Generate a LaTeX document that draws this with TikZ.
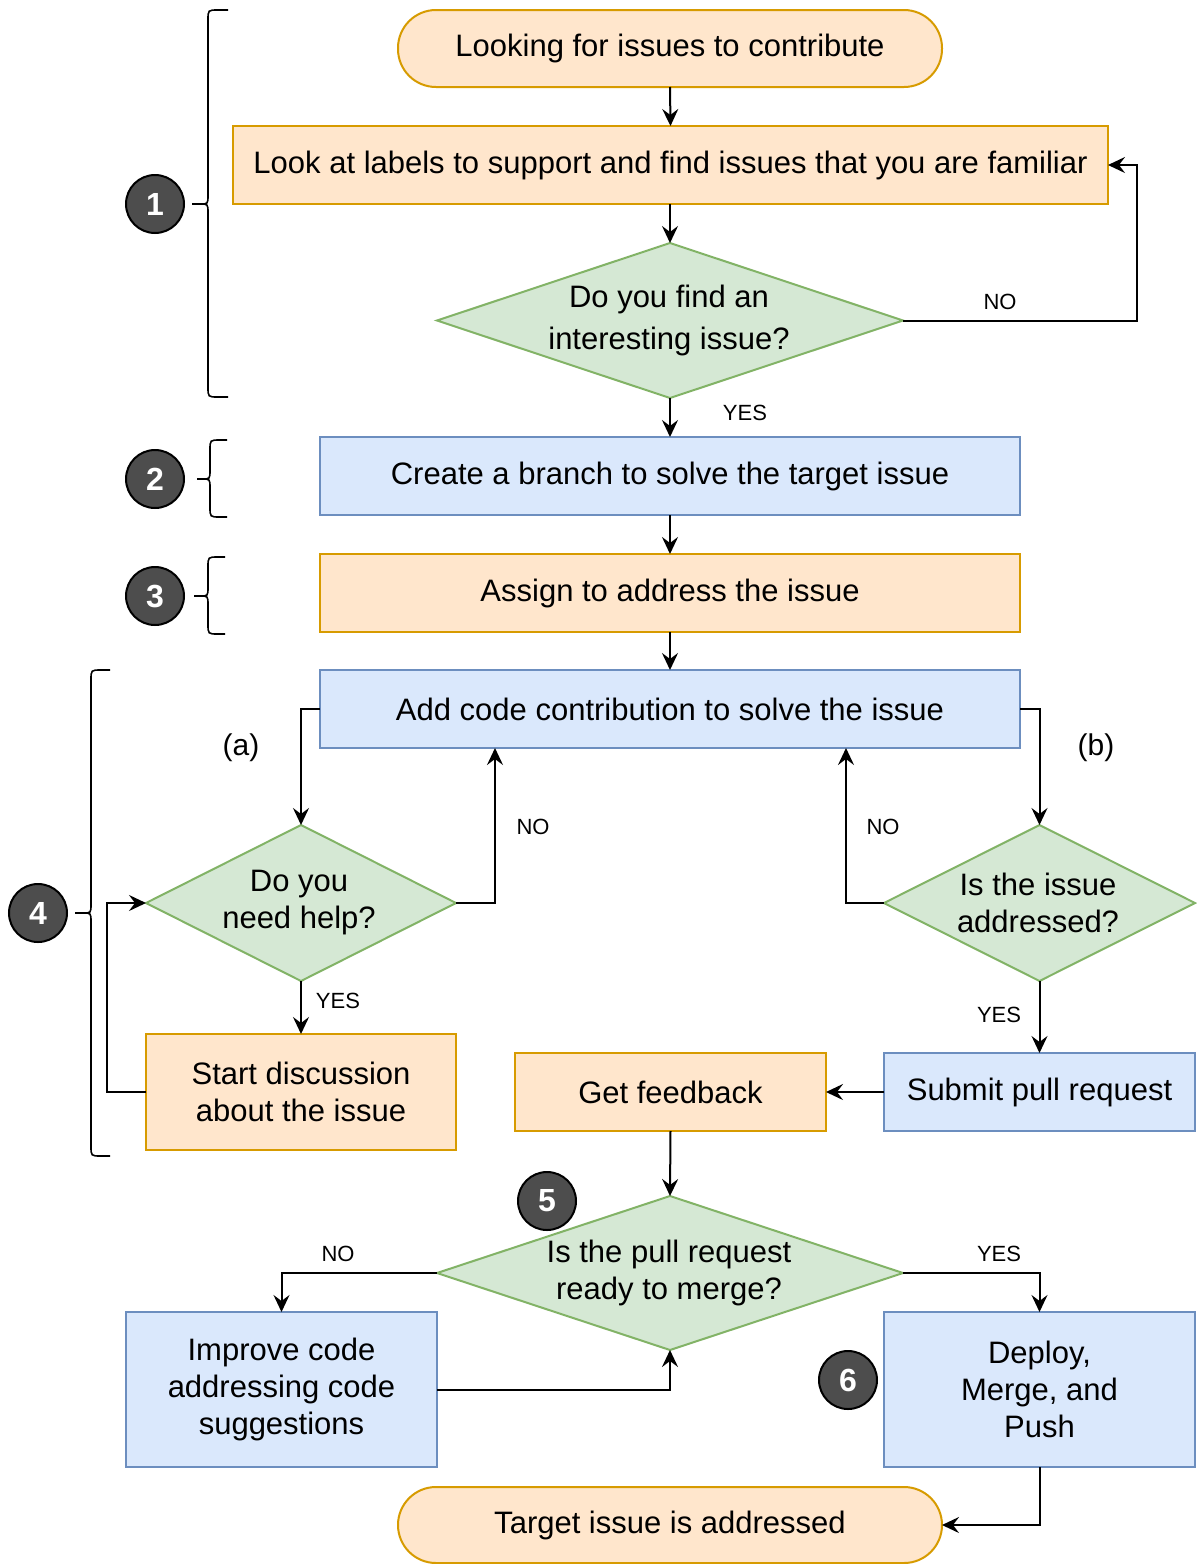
\documentclass[tikz,border=0pt]{standalone}
\usepackage{fontspec}
\setmainfont{Liberation Sans}
\usetikzlibrary{arrows.meta,shapes.geometric}

\definecolor{orfill}{HTML}{FFE6CC}
\definecolor{orline}{HTML}{D79B00}
\definecolor{blfill}{HTML}{DAE8FC}
\definecolor{blline}{HTML}{6C8EBF}
\definecolor{grfill}{HTML}{D5E8D4}
\definecolor{grline}{HTML}{82B366}
\definecolor{markfill}{HTML}{4D4D4D}

\newcommand{\flowfont}{\fontsize{15.5}{18.5}\selectfont}

% curly brace opening to the right: right x, spine x, tip x, top y, bottom y, middle y
\newcommand{\drawbrace}[6]{%
  \draw[brace] (#1,#4) -- ({#2+10},#4) .. controls (#2,#4) .. (#2,{#4+10})
    -- (#2,{#6-9}) .. controls (#2,#6) .. ({#2-8},#6) -- (#3,#6);
  \draw[brace] ({#2-8},#6) .. controls (#2,#6) .. (#2,{#6+9})
    -- (#2,{#5-10}) .. controls (#2,#5) .. ({#2+10},#5) -- (#1,#5);
}

\begin{document}
\begin{tikzpicture}[x=0.5pt,y=-0.5pt,
  base/.style={draw, line width=1pt, inner sep=0pt, outer sep=0pt, align=center, font=\flowfont},
  orbox/.style={base, fill=orfill, draw=orline},
  bluebox/.style={base, fill=blfill, draw=blline},
  terminal/.style={orbox, rounded corners=19pt},
  decision/.style={diamond, draw=grline, fill=grfill, line width=1pt, inner sep=0pt, outer sep=0pt},
  dtext/.style={align=center, font=\flowfont, inner sep=0pt},
  marker/.style={circle, draw=black, fill=markfill, line width=1pt, minimum size=29pt,
    inner sep=0pt, text=white, font=\bfseries\fontsize{16}{18}\selectfont},
  flow/.style={draw=black, line width=1pt, -{Stealth[length=8.5pt,width=8pt,inset=3pt]}},
  answer/.style={font=\fontsize{11}{13}\selectfont, inner sep=0pt},
  branchlbl/.style={font=\fontsize{15}{18}\selectfont, inner sep=0pt},
  brace/.style={draw=black, line width=0.8pt},
]
\useasboundingbox (0,0) rectangle (1196,1564);
\fill[white] (0,0) rectangle (1196,1564);

% ---- stage 1: finding an issue
\node[terminal, minimum width=272pt, minimum height=38.5pt] (t1) at (670,48.5) {Looking for issues to contribute};
\node[orbox, minimum width=437.5pt, minimum height=39pt] (b1) at (670.5,165) {Look at labels to support and find issues that you are familiar};
\node[decision, minimum width=233pt, minimum height=77.5pt] (d1) at (670,320.5) {};
\node[dtext, font=\fontsize{15.5}{21}\selectfont] (d1t) at (669,320) {Do you find an\\interesting issue?};

% ---- stages 2 and 3
\node[bluebox, minimum width=350pt, minimum height=39pt] (b2) at (670,476) {Create a branch to solve the target issue};
\node[orbox, minimum width=350pt, minimum height=39pt] (b3) at (670,593) {Assign to address the issue};

% ---- stage 4: contributing code
\node[bluebox, minimum width=350pt, minimum height=39pt] (b4) at (670,709) {Add code contribution to solve the issue};
\node[decision, minimum width=155pt, minimum height=78pt] (d2) at (301,903) {};
\node[dtext] (d2t) at (299,903) {Do you\\need help?};
\node[orbox, minimum width=155pt, minimum height=58pt] (b5) at (301,1092) {Start discussion\\about the issue};
\node[decision, minimum width=155.5pt, minimum height=78pt] (d3) at (1039.5,903) {};
\node[dtext] (d3t) at (1038,903) {Is the issue\\addressed?};
\node[bluebox, minimum width=155.5pt, minimum height=39pt] (b6) at (1039.5,1092) {Submit pull request};
\node[orbox, minimum width=155.5pt, minimum height=39pt] (b7) at (670.5,1092) {Get feedback};
\node[branchlbl] (la) at (241,748) {(a)};
\node[branchlbl] (lb) at (1096,748) {(b)};

% ---- stages 5 and 6: review and merge
\node[decision, minimum width=233pt, minimum height=77pt] (d4) at (670,1273) {};
\node[dtext] (d4t) at (669,1273) {Is the pull request\\ready to merge?};
\node[bluebox, minimum width=155.5pt, minimum height=77.5pt] (b8) at (281.5,1389.5) {Improve code\\addressing code\\suggestions};
\node[bluebox, minimum width=155.5pt, minimum height=77.5pt] (b9) at (1039.5,1389.5) {Deploy,\\Merge, and\\Push};
\node[terminal, minimum width=272pt, minimum height=38pt] (t2) at (670,1525) {Target issue is addressed};

% ---- connectors
\coordinate (c1) at (1137,320.5);
\coordinate (c2) at (495,903);
\coordinate (c3) at (107,1092);
\coordinate (c4) at (846,903);

\draw[flow] (t1.south) -- (b1.north);
\draw[flow] (b1.south -| d1.north) -- (d1.north);
\draw[flow] (d1.east) -- (c1) |- (b1.east);
\draw[flow] (d1.south) -- (b2.north -| d1.south);
\draw[flow] (b2.south) -- (b3.north);
\draw[flow] (b3.south) -- (b4.north);

\draw[flow] (b4.west) -| (d2.north);
\draw[flow] (d2.east) -- (c2) -- (c2 |- b4.south);
\draw[flow] (d2.south) -- (b5.north);
\draw[flow] (b5.west) -- (c3) |- (d2.west);

\draw[flow] (b4.east) -| (d3.north);
\draw[flow] (d3.west) -- (c4) -- (c4 |- b4.south);
\draw[flow] (d3.south) -- (b6.north);
\draw[flow] (b6.west) -- (b7.east);
\draw[flow] (b7.south) -- (d4.north);

\draw[flow] (d4.west) -| (b8.north);
\draw[flow] (d4.east) -| (b9.north);
\draw[flow] (b8.east) -| (d4.south);
\draw[flow] (b9.south) |- (t2.east);

% ---- answer labels
\node[answer] (n1) at (1000,302) {NO};
\node[answer] (y1) at (745,413) {YES};
\node[answer] (n2) at (533,827) {NO};
\node[answer] (y2) at (338,1001) {YES};
\node[answer] (n3) at (883,827) {NO};
\node[answer] (y3) at (999,1015) {YES};
\node[answer] (n4) at (338,1254) {NO};
\node[answer] (y4) at (999,1254) {YES};

% ---- stage braces and markers
\drawbrace{228}{208}{192}{10}{397}{204}
\drawbrace{227}{210}{197}{440}{517}{479}
\drawbrace{225}{208}{194}{557}{634}{596}
\drawbrace{110}{91}{75}{670}{1156}{913}

\node[marker] (m1) at (155,204) {1};
\node[marker] (m2) at (155,479) {2};
\node[marker] (m3) at (155,596) {3};
\node[marker] (m4) at (38,913) {4};
\node[marker] (m5) at (547,1201) {5};
\node[marker] (m6) at (848,1380) {6};
\end{tikzpicture}
\end{document}
